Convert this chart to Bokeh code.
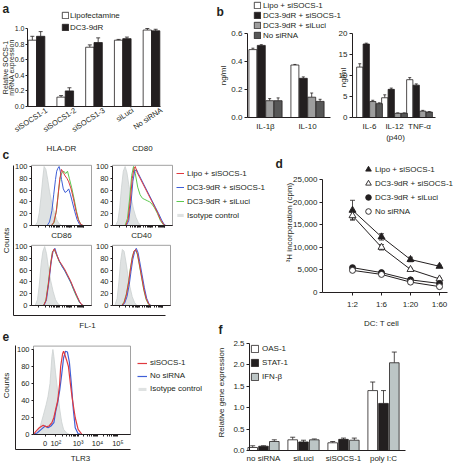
import math
from bokeh.plotting import figure
from bokeh.models import (Range1d, LinearAxis, FixedTicker, Label, Legend, LegendItem,
                          NumeralTickFormatter)
from bokeh.embed import file_html
from bokeh.resources import INLINE

# ============================ DATA ============================
# a) SOCS-1 knockdown
a_categories = ["siSOCS1-1", "siSOCS1-2", "siSOCS1-3", "siLuci", "No siRNA"]
a_series = ["Lipofectamine", "DC3-9dR"]
a_lipo = [0.85, 0.12, 0.76, 0.85, 0.98]
a_lipo_err = [0.05, 0.02, 0.03, 0.01, 0.02]
a_dc = [0.90, 0.20, 0.82, 0.87, 0.97]
a_dc_err = [0.06, 0.04, 0.06, 0.02, 0.02]

# b) cytokines
b_series = ["Lipo + siSOCS-1", "DC3-9dR + siSOCS-1", "DC3-9dR + siLuci", "No siRNA"]
b_left_cats = ["IL-1β", "IL-10"]
b_left_vals = [[0.485, 0.375], [0.515, 0.28], [0.12, 0.145], [0.12, 0.115]]
b_left_err = [[0.01, 0.004], [0.005, 0.01], [0.015, 0.03], [0.02, 0.015]]
b_right_cats = ["IL-6", "IL-12", "TNF-α"]
b_right_vals = [[12.0, 4.7, 9.0], [17.5, 6.7, 7.7], [3.8, 1.0, 1.5], [3.3, 1.0, 1.3]]
b_right_err = [[0.8, 0.7, 0.5], [0.2, 0.3, 0.3], [0.3, 0.1, 0.2], [0.2, 0.1, 0.1]]

# c) flow histograms (x: % of display width, y: counts)
c_titles = ["HLA-DR", "CD80", "CD86", "CD40"]
c_series = ["Lipo + siSOCS-1", "DC3-9dR + siSOCS-1", "DC3-9dR + siLuci", "Isotype control"]
hla_gray_x = [6, 10, 13, 16, 19, 21, 24, 27, 30, 34, 38, 42, 46, 50]
hla_gray_y = [0, 6, 22, 50, 82, 100, 95, 78, 58, 38, 22, 10, 3, 0]
hla_red_x = [0, 33, 37, 41, 44, 47, 50, 53, 56, 59, 62, 66, 70, 74, 78, 82, 86, 100]
hla_red_y = [0, 0, 5, 22, 48, 78, 95, 90, 84, 80, 74, 62, 45, 25, 10, 2, 0, 0]
hla_blue_x = [0, 26, 30, 34, 37, 40, 42, 44, 46, 48, 50, 53, 56, 59, 62, 65, 68, 72, 76, 80, 84, 100]
hla_blue_y = [0, 0, 6, 25, 52, 78, 92, 97, 100, 92, 78, 62, 56, 58, 62, 52, 40, 24, 10, 2, 0, 0]
hla_green_x = [0, 34, 38, 42, 45, 48, 51, 54, 57, 60, 63, 67, 71, 75, 79, 83, 86, 100]
hla_green_y = [0, 0, 6, 28, 58, 82, 90, 92, 88, 92, 80, 64, 45, 24, 8, 1, 0, 0]

cd80_gray_x = [5, 9, 12, 15, 18, 21, 24, 27, 31, 35, 39, 43, 47]
cd80_gray_y = [0, 8, 30, 65, 92, 100, 90, 70, 48, 28, 14, 5, 0]
cd80_red_x = [0, 22, 26, 30, 33, 36, 38, 41, 45, 50, 55, 60, 65, 70, 75, 80, 85, 88, 100]
cd80_red_y = [0, 0, 10, 45, 80, 97, 100, 90, 82, 72, 62, 52, 42, 32, 22, 10, 2, 0, 0]
cd80_blue_x = [0, 23, 27, 31, 34, 37, 40, 43, 47, 52, 57, 62, 67, 72, 77, 82, 86, 89, 100]
cd80_blue_y = [0, 0, 8, 40, 75, 92, 95, 88, 80, 70, 60, 50, 40, 30, 20, 9, 2, 0, 0]
cd80_green_x = [0, 21, 25, 29, 32, 35, 38, 42, 46, 50, 54, 58, 62, 66, 70, 75, 80, 85, 88, 100]
cd80_green_y = [0, 0, 12, 50, 85, 100, 88, 65, 52, 46, 44, 42, 40, 36, 30, 20, 8, 1, 0, 0]

cd86_gray_x = [6, 10, 13, 16, 19, 22, 25, 28, 32, 36, 40, 44, 48]
cd86_gray_y = [0, 10, 35, 70, 92, 100, 88, 66, 42, 24, 10, 3, 0]
cd86_red_x = [0, 20, 24, 28, 32, 35, 38, 42, 46, 50, 55, 60, 65, 70, 75, 80, 84, 87, 100]
cd86_red_y = [0, 0, 8, 35, 70, 90, 96, 86, 76, 70, 62, 52, 42, 30, 18, 7, 1, 0, 0]
cd86_blue_x = [0, 21, 25, 29, 33, 36, 39, 43, 47, 51, 56, 61, 66, 71, 76, 80, 84, 86, 100]
cd86_blue_y = [0, 0, 10, 40, 75, 92, 97, 84, 74, 66, 58, 48, 38, 26, 15, 6, 1, 0, 0]
cd86_green_x = [0, 20, 24, 28, 32, 35, 38, 42, 46, 50, 55, 60, 65, 70, 75, 80, 84, 86, 100]
cd86_green_y = [0, 0, 9, 38, 72, 92, 95, 85, 75, 68, 60, 50, 40, 27, 15, 5, 1, 0, 0]

cd40_gray_x = [4, 8, 11, 14, 17, 20, 23, 26, 30, 34, 38, 42]
cd40_gray_y = [0, 12, 40, 75, 95, 92, 75, 55, 32, 15, 5, 0]
cd40_red_x = [0, 16, 20, 24, 28, 31, 34, 37, 40, 43, 46, 50, 54, 58, 62, 66, 100]
cd40_red_y = [0, 0, 5, 18, 40, 62, 80, 92, 95, 88, 72, 50, 28, 12, 3, 0, 0]
cd40_blue_x = [0, 17, 21, 25, 29, 32, 35, 38, 41, 44, 47, 51, 55, 59, 63, 66, 100]
cd40_blue_y = [0, 0, 4, 15, 36, 58, 78, 90, 97, 90, 74, 52, 30, 12, 3, 0, 0]
cd40_green_x = [0, 16, 20, 24, 28, 31, 34, 37, 40, 43, 46, 50, 54, 58, 62, 66, 100]
cd40_green_y = [0, 0, 6, 20, 42, 64, 82, 92, 94, 86, 70, 48, 26, 10, 2, 0, 0]

# d) T-cell proliferation
d_ratios = ["1:2", "1:6", "1:20", "1:60"]
d_series = ["Lipo + siSOCS-1", "DC3-9dR + siSOCS-1", "DC3-9dR + siLuci", "No siRNA"]
d_vals = [[18200, 12300, 7300, 5800], [17000, 10000, 5100, 3000],
          [5500, 4400, 2800, 2000], [4900, 4000, 2300, 1300]]
d_err = [[2200, 700, 500, 250], [800, 600, 250, 200], [300, 250, 300, 300], [200, 200, 200, 200]]

# e) TLR3 histogram
e_series = ["siSOCS-1", "No siRNA", "Isotype control"]
e_tick_labels = ["0", "10²", "10³", "10⁴", "10⁵"]
e_gray_x = [3, 7, 10, 13, 15, 17, 19, 20, 21, 23, 25, 27, 29, 31, 34, 37]
e_gray_y = [0, 10, 22, 35, 45, 60, 92, 100, 92, 70, 50, 30, 15, 6, 2, 0]
e_red_x = [0, 2, 6, 10, 13, 16, 19, 21, 23, 25, 27, 28, 30, 31, 32, 34, 36, 38, 40, 43, 46, 50]
e_red_y = [0, 3, 8, 11, 9, 10, 14, 20, 30, 40, 60, 80, 95, 98, 95, 88, 80, 60, 42, 20, 6, 0]
e_blue_x = [0, 4, 8, 12, 15, 18, 21, 23, 25, 27, 29, 31, 33, 35, 37, 39, 41, 43, 46, 50, 100]
e_blue_y = [0, 2, 6, 10, 8, 10, 14, 28, 38, 52, 70, 90, 98, 97, 85, 60, 30, 8, 1, 0, 0]

# f) interferon response genes
f_categories = ["no siRNA", "siLuci", "siSOCS-1", "poly I:C"]
f_series = ["OAS-1", "STAT-1", "IFN-β"]
f_vals = [[0.07, 0.25, 0.18, 1.40], [0.10, 0.20, 0.26, 1.10], [0.21, 0.25, 0.24, 2.05]]
f_err = [[0.04, 0.06, 0.03, 0.20], [0.01, 0.04, 0.03, 0.30], [0.04, 0.02, 0.05, 0.25]]

# ============================ STYLE ============================
FONT = "Liberation Sans"
INK = "#231f20"
RED, BLUE, GREEN = "#e0393e", "#3f5fd8", "#5cc94f"
ISO_FILL, ISO_LINE = "#dfe2e2", "#cbd0d0"
W, H = 455, 466
OX, OY = 0, 0          # Bokeh's page template resets the body margin

p = figure(width=W, height=H, x_range=Range1d(OX, OX + W), y_range=Range1d(OY + H, OY),
           x_axis_type=None, y_axis_type=None, output_backend="svg",
           toolbar_location=None, min_border=0)
p.outline_line_color = None
p.background_fill_color = "white"
p.border_fill_color = "white"


def xmap(name, v0, px0, v1, px1):
    k = (v1 - v0) / (px1 - px0)
    p.extra_x_ranges[name] = Range1d(v0 + (OX - px0) * k, v0 + (OX + W - px0) * k)


def ymap(name, v0, py0, v1, py1):
    k = (v1 - v0) / (py1 - py0)
    p.extra_y_ranges[name] = Range1d(v0 + (OY + H - py0) * k, v0 + (OY - py0) * k)


def axis(side, xr, yr, loc, bounds, ticks, labels=None, fmt=None, size="8px", tick_out=3,
         orient="horizontal", standoff=2, minor=None, show_labels=True, line_color=INK,
         line=True):
    ax = LinearAxis(x_range_name=xr, y_range_name=yr, fixed_location=loc, bounds=bounds,
                    ticker=FixedTicker(ticks=ticks, minor_ticks=minor or []))
    ax.axis_line_color = line_color if line else None
    ax.axis_line_width = 1
    ax.major_tick_line_color = INK if tick_out else None
    ax.major_tick_out = tick_out
    ax.major_tick_in = 0
    ax.minor_tick_out = 2
    ax.minor_tick_in = 0
    ax.minor_tick_line_color = INK if minor else None
    ax.major_label_text_font = FONT
    ax.major_label_text_font_size = size
    ax.major_label_text_color = INK if show_labels else None
    ax.major_label_standoff = standoff
    ax.major_label_orientation = orient
    if fmt:
        ax.formatter = NumeralTickFormatter(format=fmt)
    if labels is not None:
        ax.major_label_overrides = labels
    p.add_layout(ax, side)
    return ax


def label(x, y, text, size="8px", align="center", baseline="middle", angle=0.0, bold=False):
    p.add_layout(Label(x=x, y=y, text=text, text_font=FONT, text_font_size=size,
                       text_color=INK, text_align=align, text_baseline=baseline, angle=angle,
                       text_font_style="bold" if bold else "normal"))


def legend(items, left, top, glyph_w, glyph_h, label_h, spacing=0, standoff=3, size="8px"):
    n = len(items)
    row = max(glyph_h, label_h)
    height = n * row + (n - 1) * spacing
    leg = Legend(items=items, location=(left - OX, (OY + H) - (top + height)),
                 orientation="vertical", glyph_width=glyph_w, glyph_height=glyph_h,
                 label_height=label_h, label_width=0, spacing=spacing, padding=0, margin=0,
                 label_standoff=standoff, label_text_font=FONT, label_text_font_size=size,
                 label_text_color=INK, border_line_color=None, background_fill_alpha=0)
    p.add_layout(leg)


def bars(xr, yr, centers, vals, errs, offset, width, fill, cap=4):
    xs = [c + offset for c in centers]
    tops = [v + e for v, e in zip(vals, errs)]
    p.segment(x0=xs, y0=vals, x1=xs, y1=tops, line_color=INK, line_width=0.8,
              x_range_name=xr, y_range_name=yr)
    p.scatter(x=xs, y=tops, marker="dash", size=cap, line_color=INK, line_width=0.8,
              x_range_name=xr, y_range_name=yr)
    return p.vbar(x=xs, top=vals, bottom=0, width=width, fill_color=fill, line_color=INK,
                  line_width=0.8, x_range_name=xr, y_range_name=yr)


# ============================ PANEL a ============================
xmap("ax", 0, 36, 4, 151)
ymap("ay", 0, 106, 1.0, 28)
a_idx = list(range(len(a_categories)))
ra1 = bars("ax", "ay", a_idx, a_lipo, a_lipo_err, -0.145, 0.29, "white")
ra2 = bars("ax", "ay", a_idx, a_dc, a_dc_err, 0.145, 0.29, INK)
a_left = (27 - 36) / 28.75
axis("left", "ax", "ay", a_left, (0, 1.0), [0, 0.2, 0.4, 0.6, 0.8, 1.0], fmt="0.0",
     size="7px", tick_out=2, standoff=1)
axis("below", "ax", "ay", 0, (a_left, 4.3), [], tick_out=0)
a_label_pos = [i + 0.35 for i in a_idx]
axis("below", "ax", "ay", 0, (a_left, 4.3), a_label_pos,
     labels={x: c for x, c in zip(a_label_pos, a_categories)}, tick_out=0, orient=0.58,
     standoff=3, size="7.5px", line=False)
label(4.5, 67, "Relative SOCS-1", size="7px", angle=math.pi / 2)
label(11, 67, "mRNA expression", size="7px", angle=math.pi / 2)
label(2, 1, "a", size="12px", align="left", baseline="top", bold=True)
legend([LegendItem(label=a_series[0], renderers=[ra1]),
        LegendItem(label=a_series[1], renderers=[ra2])], 61, 9, 8, 8, 12, standoff=1)

# ============================ PANEL b ============================
b_fills = ["white", INK, "#9d9d9d", "#575757"]
xmap("blx", 0, 265, 1, 307)
ymap("bly", 0, 117, 0.6, 33)
xmap("brx", 0, 369, 1, 394)
ymap("bry", 0, 117, 20, 33)
bl_idx = list(range(len(b_left_cats)))
br_idx = list(range(len(b_right_cats)))
b_rend = []
for j in range(4):
    r = bars("blx", "bly", bl_idx, b_left_vals[j], b_left_err[j], (j - 1.5) * 0.2, 0.19,
             b_fills[j], cap=3)
    bars("brx", "bry", br_idx, b_right_vals[j], b_right_err[j], (j - 1.5) * 0.26, 0.25,
         b_fills[j], cap=3)
    b_rend.append(r)
axis("left", "blx", "bly", -0.43, (0, 0.6), [0, 0.2, 0.4, 0.6], fmt="0.0")
axis("below", "blx", "bly", 0, (-0.43, 1.55), bl_idx,
     labels={i: c for i, c in enumerate(b_left_cats)}, tick_out=0, standoff=4)
axis("left", "brx", "bry", -0.68, (0, 20), [0, 5, 10, 15, 20])
axis("below", "brx", "bry", 0, (-0.68, 2.64), br_idx,
     labels={i: c for i, c in enumerate(b_right_cats)}, tick_out=0, standoff=4)
label(223, 75, "ng/ml", angle=math.pi / 2)
label(343, 77, "ng/ml", angle=math.pi / 2)
label(395, 137, "(p40)")
label(216, 4, "b", size="12px", align="left", baseline="top", bold=True)
legend([LegendItem(label=s, renderers=[r]) for s, r in zip(b_series, b_rend)],
       253, 0, 8, 8, 10, spacing=0, standoff=2)

# ============================ PANEL c ============================
c_boxes = [(31, 91, 225, 166), (112, 172, 225, 166), (31, 91, 305, 246), (112, 170, 305, 246)]
c_title_y = [148, 148, 235, 235]
c_data = [
    (hla_gray_x, hla_gray_y, hla_red_x, hla_red_y, hla_blue_x, hla_blue_y, hla_green_x, hla_green_y),
    (cd80_gray_x, cd80_gray_y, cd80_red_x, cd80_red_y, cd80_blue_x, cd80_blue_y, cd80_green_x, cd80_green_y),
    (cd86_gray_x, cd86_gray_y, cd86_red_x, cd86_red_y, cd86_blue_x, cd86_blue_y, cd86_green_x, cd86_green_y),
    (cd40_gray_x, cd40_gray_y, cd40_red_x, cd40_red_y, cd40_blue_x, cd40_blue_y, cd40_green_x, cd40_green_y),
]
flow_ticks = [12, 23, 46, 66, 87]
flow_minor = []
for a0, a1 in [(23, 46), (46, 66), (66, 87)]:
    flow_minor += [a0 + (a1 - a0) * math.log10(k) for k in range(2, 10)]
c_legend_renderers = None
for i, ((lft, rgt, y0, y100), title, ty, dat) in enumerate(zip(c_boxes, c_titles, c_title_y, c_data)):
    xn, yn = f"c{i}x", f"c{i}y"
    xmap(xn, 0, lft, 100, rgt)
    ymap(yn, 0, y0, 100, y100)
    gx, gy, rx, ry, bx, by, grx, gry = dat
    g1 = p.varea(x=gx, y1=[0] * len(gx), y2=gy, fill_color=ISO_FILL, x_range_name=xn, y_range_name=yn)
    p.line(gx, gy, line_color=ISO_LINE, line_width=0.8, x_range_name=xn, y_range_name=yn)
    l3 = p.line(grx, gry, line_color=GREEN, line_width=1, x_range_name=xn, y_range_name=yn)
    l2 = p.line(bx, by, line_color=BLUE, line_width=1, x_range_name=xn, y_range_name=yn)
    l1 = p.line(rx, ry, line_color=RED, line_width=1, x_range_name=xn, y_range_name=yn)
    p.quad(left=0, right=100, bottom=0, top=102, fill_color=None, line_color="#8a8a8a",
           line_width=0.8, x_range_name=xn, y_range_name=yn)
    axis("left", xn, yn, 0, (0, 100), [0, 20, 40, 60, 80, 100], size="7.5px", tick_out=2)
    axis("below", xn, yn, 0, (0, 100), flow_ticks, tick_out=2, minor=flow_minor,
         show_labels=False)
    label((lft + rgt) / 2, ty, title)
    if i == 0:
        c_legend_renderers = [l1, l2, l3, g1]
p.line([13, 13, 165], [165, 315, 315], line_color=INK, line_width=1)
label(6, 240, "Counts", angle=math.pi / 2)
label(87, 325, "FL-1")
label(2, 147, "c", size="12px", align="left", baseline="top", bold=True)
legend([LegendItem(label=s, renderers=[r]) for s, r in zip(c_series, c_legend_renderers)],
       176, 166, 8, 4, 14, standoff=3)

# ============================ PANEL d ============================
xmap("dx", 0, 352, 3, 439)
ymap("dy", 0, 292, 25000, 179)
d_idx = list(range(len(d_ratios)))
d_styles = [("triangle", INK, 7), ("triangle", "white", 7), ("circle", INK, 6), ("circle", "white", 6)]
d_rend = []
for j in range(4):
    vals, errs = d_vals[j], d_err[j]
    lo = [v - e for v, e in zip(vals, errs)]
    hi = [v + e for v, e in zip(vals, errs)]
    p.line(d_idx, vals, line_color=INK, line_width=1, x_range_name="dx", y_range_name="dy")
    p.segment(x0=d_idx, y0=lo, x1=d_idx, y1=hi, line_color=INK, line_width=0.8,
              x_range_name="dx", y_range_name="dy")
    p.scatter(x=d_idx + d_idx, y=lo + hi, marker="dash", size=5, line_color=INK,
              line_width=0.8, x_range_name="dx", y_range_name="dy")
for j in range(4):
    m, fill, sz = d_styles[j]
    r = p.scatter(x=d_idx, y=d_vals[j], marker=m, size=sz, fill_color=fill, line_color=INK,
                  line_width=0.9, x_range_name="dx", y_range_name="dy")
    d_rend.append(r)
axis("left", "dx", "dy", -1.034, (0, 25000), [0, 5000, 10000, 15000, 20000, 25000], fmt="0,0")
axis("below", "dx", "dy", 0, (-1.034, 3.28), d_idx,
     labels={i: c for i, c in enumerate(d_ratios)}, tick_out=3, standoff=4)
label(289, 222, "³H incorporation (cpm)", angle=math.pi / 2)
label(381, 323, "DC: T cell")
label(275, 156, "d", size="12px", align="left", baseline="top", bold=True)
legend([LegendItem(label=s, renderers=[r]) for s, r in zip(d_series, d_rend)],
       361, 168, 14, 14, 14, spacing=-2, standoff=0)

# ============================ PANEL e ============================
xmap("ex", 0, 33, 100, 130)
ymap("ey", 0, 434, 100, 349)
ge = p.varea(x=e_gray_x, y1=[0] * len(e_gray_x), y2=e_gray_y, fill_color=ISO_FILL,
             x_range_name="ex", y_range_name="ey")
p.line(e_gray_x, e_gray_y, line_color=ISO_LINE, line_width=0.8, x_range_name="ex", y_range_name="ey")
eb = p.line(e_blue_x, e_blue_y, line_color=BLUE, line_width=1.2, x_range_name="ex", y_range_name="ey")
er = p.line(e_red_x, e_red_y, line_color=RED, line_width=1.2, x_range_name="ex", y_range_name="ey")
p.quad(left=0, right=100, bottom=0, top=104, fill_color=None, line_color="#8a8a8a",
       line_width=0.8, x_range_name="ex", y_range_name="ey")
axis("left", "ex", "ey", 0, (0, 100), [0, 20, 40, 60, 80, 100], size="7.5px", tick_out=2)
axis("below", "ex", "ey", 0, (0, 100), flow_ticks,
     labels={t: s for t, s in zip(flow_ticks, e_tick_labels)}, tick_out=2, minor=flow_minor,
     size="7.5px", standoff=2)
p.line([15, 15, 130], [345, 449, 449], line_color=INK, line_width=1)
label(6, 385, "Counts", angle=math.pi / 2)
label(80, 458, "TLR3")
label(2, 331, "e", size="12px", align="left", baseline="top", bold=True)
legend([LegendItem(label=s, renderers=[r]) for s, r in zip(e_series, [er, eb, ge])],
       137, 356, 10, 4, 13, standoff=3)

# ============================ PANEL f ============================
f_fills = ["white", INK, "#bcc5c5"]
xmap("fx", 0, 263, 3, 383)
ymap("fy", 0, 450, 2.5, 343)
f_idx = list(range(len(f_categories)))
f_rend = []
for j in range(3):
    r = bars("fx", "fy", f_idx, f_vals[j], f_err[j], (j - 1) * 0.27, 0.24, f_fills[j], cap=5)
    f_rend.append(r)
axis("left", "fx", "fy", -0.35, (0, 2.5), [0, 0.5, 1.0, 1.5, 2.0, 2.5], fmt="0.0")
axis("below", "fx", "fy", 0, (-0.35, 3.55), f_idx,
     labels={i: c for i, c in enumerate(f_categories)}, tick_out=0, standoff=3)
label(221, 392, "Relative gene expression", angle=math.pi / 2)
label(218, 322, "f", size="12px", align="left", baseline="top", bold=True)
legend([LegendItem(label=s, renderers=[r]) for s, r in zip(f_series, f_rend)],
       250, 341, 9, 9, 14, standoff=3)

open("out.html", "w").write(file_html(p, INLINE))
